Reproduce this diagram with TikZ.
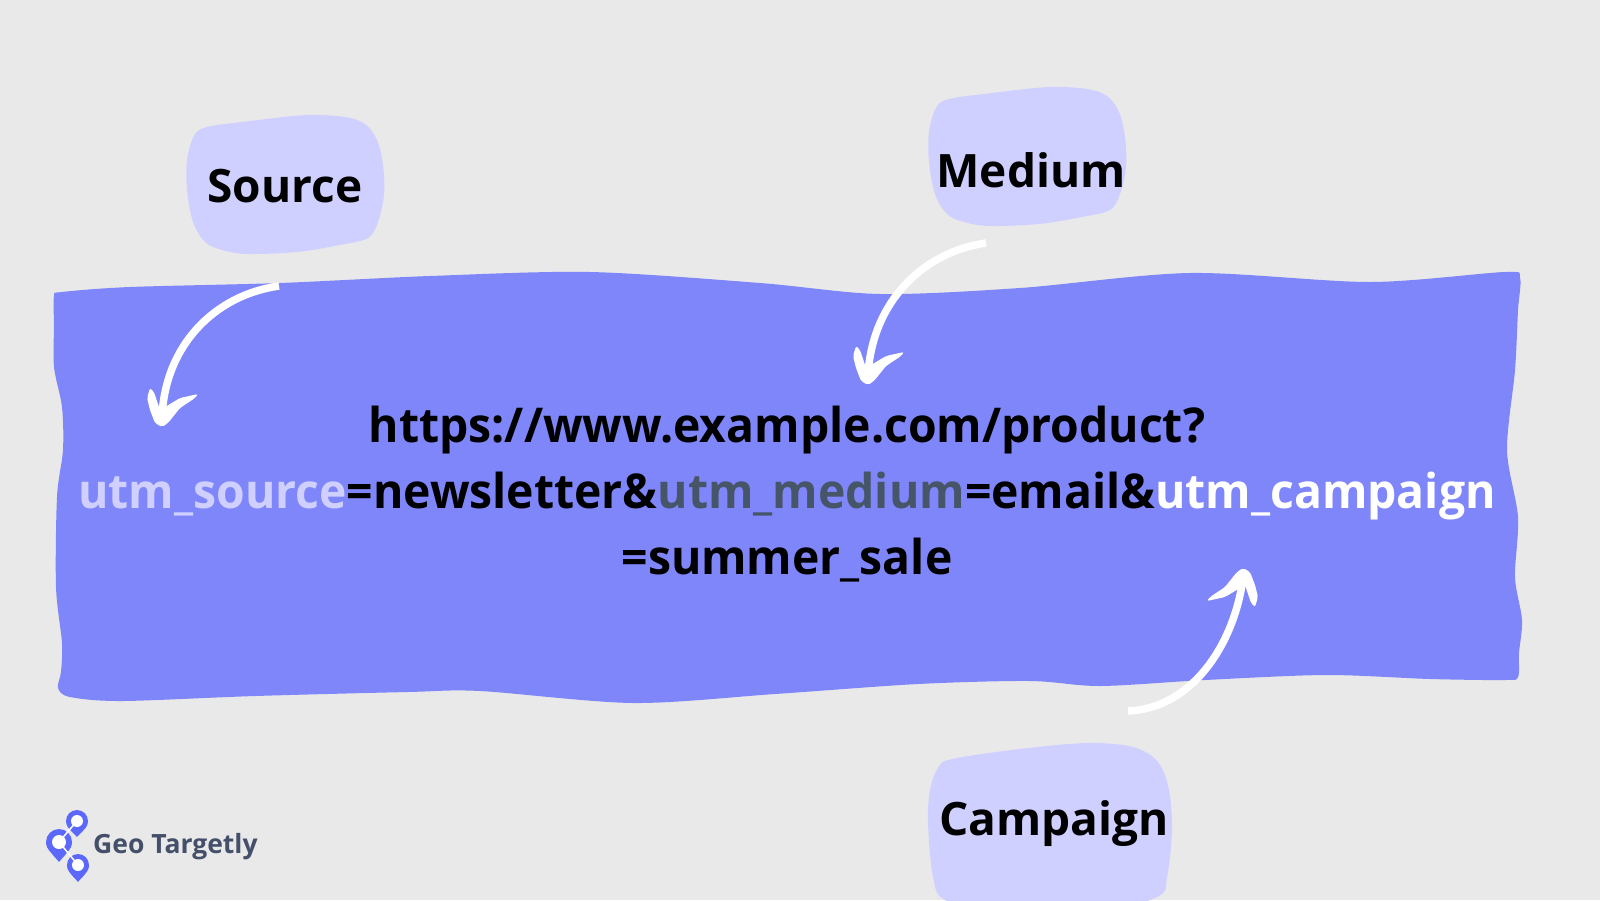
\documentclass[tikz,border=0pt]{standalone}
\usepackage{fontspec}
\setmainfont{Open Sans}
\usetikzlibrary{arrows.meta, positioning}
\definecolor{bgc}{HTML}{E9E9E9}
\definecolor{ribbonc}{HTML}{7F86FA}
\definecolor{blobc}{HTML}{CFD0FF}
\definecolor{mediumc}{HTML}{475569}
\definecolor{logoc}{HTML}{44506A}
\definecolor{pinc}{HTML}{5B68FB}

\begin{document}
\begin{tikzpicture}[
  x=1pt, y=-1pt,
  blob/.style={fill=blobc},
  label/.style={font=\bfseries\fontsize{46}{52}\selectfont, text=black, inner sep=0pt, anchor=base},
  arr/.style={white, line width=7.5pt},
  pin/.style={fill=pinc},
  head/.pic={
    \fill[white, rounded corners=2pt] (-15,-27) -- (-12,-37) -- (-8,-33) -- (-2,-15) -- (18,-27) -- (36,-31)
      -- (33,-27) -- (18,-17) -- (6,-2) -- (0,2) -- (-7,-2) -- (-12,-15) -- cycle;
  }
]
\useasboundingbox (0,0) rectangle (1600,900);
\fill[bgc] (0,0) rectangle (1600,900);

% ribbon
\fill[ribbonc] plot[smooth cycle, tension=0.5] coordinates {
  (54,325) (54,296) (62,292) (130,287) (280,283) (430,276) (590,272) (760,283) (880,294) (1020,288)
  (1190,273) (1370,282) (1505,272) (1520,278) (1518,310) (1515,370) (1507,450)
  (1518,517) (1515,577) (1522,620) (1519,653) (1518,677) (1505,680) (1430,679)
  (1326,675) (1205,680) (1100,686) (1030,681) (918,684) (775,694) (633,703)
  (480,691) (408,692) (255,696) (122,701) (70,697) (58,688) (61,672) (62,643)
  (56,587) (57,497) (63,450) (62,407) (54,367)
};

% label shapes
\foreach \bx/\by in {0/0, 742/-28} {
  \begin{scope}[shift={(\bx,\by)}]
    \fill[blob] plot[smooth cycle, tension=0.55] coordinates {
      (207,127) (250,121) (307,115) (345,117) (365,124) (377,140) (383,165) (384,195) (378,222)
      (368,238) (340,245) (297,252) (247,254) (222,250) (205,242) (193,222) (187,190) (187,160) (194,136)
    };
  \end{scope}
}
\fill[blob] plot[smooth cycle, tension=0.55] coordinates {
  (952,759) (1020,749) (1087,743) (1133,747) (1158,762) (1169,790) (1172,830) (1167,877) (1157,897) (1090,915)
  (1000,915) (945,900) (933,877) (928,823) (930,790) (938,768)
};

\node[label] (source) at (285,202) {Source};
\node[label] (medium) at (1031,187) {Medium};
\node[label] (campaign) at (1054,835) {Campaign};

% url
\node[font=\bfseries\fontsize{48}{66}\selectfont\addfontfeature{FakeStretch=0.965}, align=center, inner sep=0pt, text=black] (url) at (787,494) {%
  https://www.example.com/product?\\
  \textcolor{blobc}{utm\_source}=newsletter\&\textcolor{mediumc}{utm\_medium}=email\&\textcolor{white}{utm\_campaign}\\
  =summer\_sale};

% arrows
\coordinate (sourcestart) at (279,286);
\coordinate (sourcetip) at (162,425);
\coordinate (mediumstart) at (986,243);
\coordinate (mediumtip) at (868,383);
\coordinate (campaignstart) at (1128,711);
\coordinate (campaigntip) at (1243,570);
\draw[arr] (sourcestart) .. controls (215,295) and (165,345) .. ([yshift=8pt]sourcetip);
\draw[arr] (mediumstart) .. controls (922,252) and (872,303) .. ([yshift=8pt]mediumtip);
\draw[arr] (campaignstart) .. controls (1195,708) and (1235,640) .. ([yshift=-8pt]campaigntip);
\pic at (sourcetip) {head};
\pic at (mediumtip) {head};
\pic[rotate=180] at (campaigntip) {head};

% logo
\foreach \px/\py/\pr/\pt in {77/821/11/837, 59/842/13/862, 78/865/11/882} {
  \fill[pin] (\px,\py) circle (\pr);
  \fill[pin] (\px-\pr,\py) .. controls (\px-\pr,\py+7) and (\px-3,\pt-4) .. (\px,\pt) .. controls (\px+3,\pt-4) and (\px+\pr,\py+7) .. (\px+\pr,\py) -- cycle;
}
\coordinate (pintop) at (77,821);
\coordinate (pinmid) at (59,842);
\coordinate (pinlow) at (78,865);
\draw[white, line width=1.5pt] (pintop) -- (pinmid) -- (pinlow);
\fill[white] (pintop) circle (6);
\fill[white] (pinmid) circle (7);
\fill[white] (pinlow) circle (6);
\node[font=\bfseries\fontsize{26.5}{30}\selectfont, text=logoc, inner sep=0pt, anchor=base west] (logo) at (93,853) {Geo Targetly};
\end{tikzpicture}
\end{document}
